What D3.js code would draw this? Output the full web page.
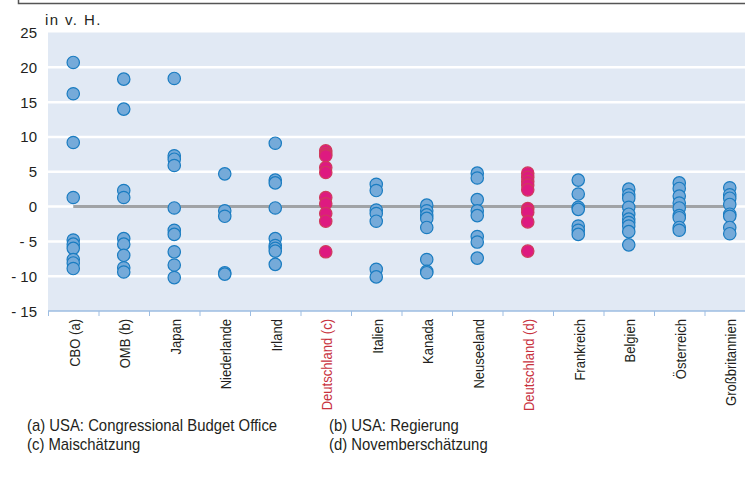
<!DOCTYPE html>
<html>
<head>
<meta charset="utf-8">
<script src="https://cdn.jsdelivr.net/npm/d3@7"></script>
<style>
body { margin: 0; background: #fff; }
svg text { font-family: "Liberation Sans", Arial, sans-serif; fill: #231f20; }
.footnote { font-family: "Liberation Sans", Arial, sans-serif; font-size: 16px; }
</style>
</head>
<body>
<svg id="chart" width="745" height="484"></svg>
<script>
// categories (x axis) and which of them are german estimates (red)
var categories = ["CBO (a)", "OMB (b)", "Japan", "Niederlande", "Irland", "Deutschland (c)", "Italien",
	"Kanada", "Neuseeland", "Deutschland (d)", "Frankreich", "Belgien", "Österreich", "Großbritannien"];
var highlighted = ["Deutschland (c)", "Deutschland (d)"];

// values in v. H. per category
var cbo = [20.7, 16.2, 9.2, 1.3, -4.8, -5.4, -6.0, -7.6, -8.1, -8.9];
var omb = [18.3, 14.0, 2.3, 1.3, -4.6, -5.4, -7.0, -8.8, -9.4];
var japan = [18.4, 7.3, 6.8, 5.9, -0.2, -3.4, -4.0, -6.5, -8.4, -10.2];
var niederlande = [4.7, -0.6, -1.4, -9.5, -9.7];
var irland = [9.1, 3.8, 3.4, -0.2, -4.6, -5.6, -6.0, -6.4, -8.3];
var deutschlandMai = [8.0, 7.6, 7.3, 5.6, 4.9, 1.3, 0.4, -1.0, -2.1, -6.5];
var italien = [3.2, 2.3, -0.5, -1.0, -2.1, -9.0, -10.1];
var kanada = [0.2, -0.6, -1.2, -1.7, -3.0, -7.6, -9.3, -9.5];
var neuseeland = [4.8, 4.1, 1.0, -0.6, -1.3, -4.3, -5.1, -7.4];
var deutschlandNov = [4.8, 4.2, 3.6, 3.1, 2.4, -0.3, -0.8, -2.2, -6.4];
var frankreich = [3.8, 1.8, -0.1, -0.4, -2.8, -3.4, -4.0];
var belgien = [2.5, 1.7, 1.2, -0.1, -1.1, -1.8, -2.3, -2.8, -3.6, -5.5];
var oesterreich = [3.4, 2.6, 1.5, 0.5, -0.2, -1.3, -1.6, -3.0, -3.4];
var grossbritannien = [2.7, 1.7, 1.2, 0.3, -1.1, -1.4, -3.0, -3.9];

var seriesValues = [cbo, omb, japan, niederlande, irland, deutschlandMai, italien,
	kanada, neuseeland, deutschlandNov, frankreich, belgien, oesterreich, grossbritannien];

var yTicks = [-15, -10, -5, 0, 5, 10, 15, 20, 25];
var yGrid = [-10, -5, 0, 5, 10, 15, 20];

var footnotes = [
	{text: "(a) USA: Congressional Budget Office", col: 0, row: 0},
	{text: "(b) USA: Regierung", col: 1, row: 0},
	{text: "(c) Maischätzung", col: 0, row: 1},
	{text: "(d) Novemberschätzung", col: 1, row: 1}
];

var svg = d3.select("#chart");

var x = d3.scaleBand()
	.domain(categories)
	.range([48, 755])
	.padding(0);

var y = d3.scaleLinear()
	.domain([-15, 25])
	.range([311, 32.5]);

// frame line at the very top
svg.append("path")
	.attr("d", "M18.5,0 V3.5 H745")
	.attr("fill", "none")
	.attr("stroke", "#555")
	.attr("stroke-width", 1.5);

// plot background
svg.append("rect")
	.attr("x", 48)
	.attr("y", y(25))
	.attr("width", 755 - 48)
	.attr("height", y(-15) - y(25))
	.attr("fill", "#e1e9f4");

// white grid lines
svg.append("g")
	.selectAll("line")
	.data(yGrid)
	.enter()
	.append("line")
	.attr("x1", 48)
	.attr("x2", 755)
	.attr("y1", function(d) { return y(d); })
	.attr("y2", function(d) { return y(d); })
	.attr("stroke", "#fff")
	.attr("stroke-width", 2.5);

// zero line between first and last category
svg.append("line")
	.attr("x1", x(categories[0]) + x.bandwidth()/2)
	.attr("x2", x(categories[categories.length-1]) + x.bandwidth()/2)
	.attr("y1", y(0))
	.attr("y2", y(0))
	.attr("stroke", "#a0a3a6")
	.attr("stroke-width", 3);

// y axis labels
svg.append("g")
	.selectAll("text")
	.data(yTicks)
	.enter()
	.append("text")
	.attr("x", 37)
	.attr("y", function(d) { return y(d) + 5.5; })
	.attr("text-anchor", "end")
	.style("font-size", "15px")
	.text(function(d) {
		return d < 0 ? "- " + Math.abs(d) : d;
	});

svg.append("text")
	.attr("x", 45)
	.attr("y", 25)
	.style("font-size", "15px")
	.style("letter-spacing", "1.4px")
	.text("in v. H.");

// x axis: light blue line with ticks at band borders
var xAxis = svg.append("g")
	.attr("transform", "translate(0," + y(-15) + ")");

xAxis.append("line")
	.attr("x1", 48)
	.attr("x2", 755)
	.attr("stroke", "#9dbde2")
	.attr("stroke-width", 1.5);

xAxis.selectAll(".tick")
	.data(categories)
	.enter()
	.append("line")
	.attr("x1", function(d) { return x(d) + 0.5; })
	.attr("x2", function(d) { return x(d) + 0.5; })
	.attr("y1", 0)
	.attr("y2", 5)
	.attr("stroke", "#9dbde2")
	.attr("stroke-width", 1);

// rotated labels, a bit condensed along the text direction like the original
xAxis.selectAll(".cat-label")
	.data(categories)
	.enter()
	.append("text")
	.attr("transform", function(d) {
		return "translate(" + (x(d) + x.bandwidth()/2 + 6.5) + ",8) rotate(-90) scale(0.9,1)";
	})
	.attr("text-anchor", "end")
	.style("font-size", "14.5px")
	.style("fill", function(d) {
		return highlighted.indexOf(d) >= 0 ? "#c8323e" : "#231f20";
	})
	.text(function(d) { return d; });

// dots
var points = [];
categories.forEach(function(c, i) {
	seriesValues[i].forEach(function(v) {
		points.push({cat: c, value: v});
	});
});

svg.append("g")
	.selectAll("circle")
	.data(points)
	.enter()
	.append("circle")
	.attr("cx", function(d) { return x(d.cat) + x.bandwidth()/2; })
	.attr("cy", function(d) { return y(d.value); })
	.attr("r", 6.2)
	.attr("fill", function(d) {
		return highlighted.indexOf(d.cat) >= 0 ? "#de1a80" : "#75aad9";
	})
	.attr("stroke", function(d) {
		return highlighted.indexOf(d.cat) >= 0 ? "#cf3b5c" : "#1a7cc1";
	})
	.attr("stroke-width", 1.2);

// footnotes
svg.append("g")
	.selectAll("text")
	.data(footnotes)
	.enter()
	.append("text")
	.attr("class", "footnote")
	.attr("transform", function(d) {
		return "translate(" + (d.col == 0 ? 27 : 329) + "," + (431 + d.row * 19) + ") scale(0.93,1)";
	})
	.text(function(d) { return d.text; });
</script>
</body>
</html>
